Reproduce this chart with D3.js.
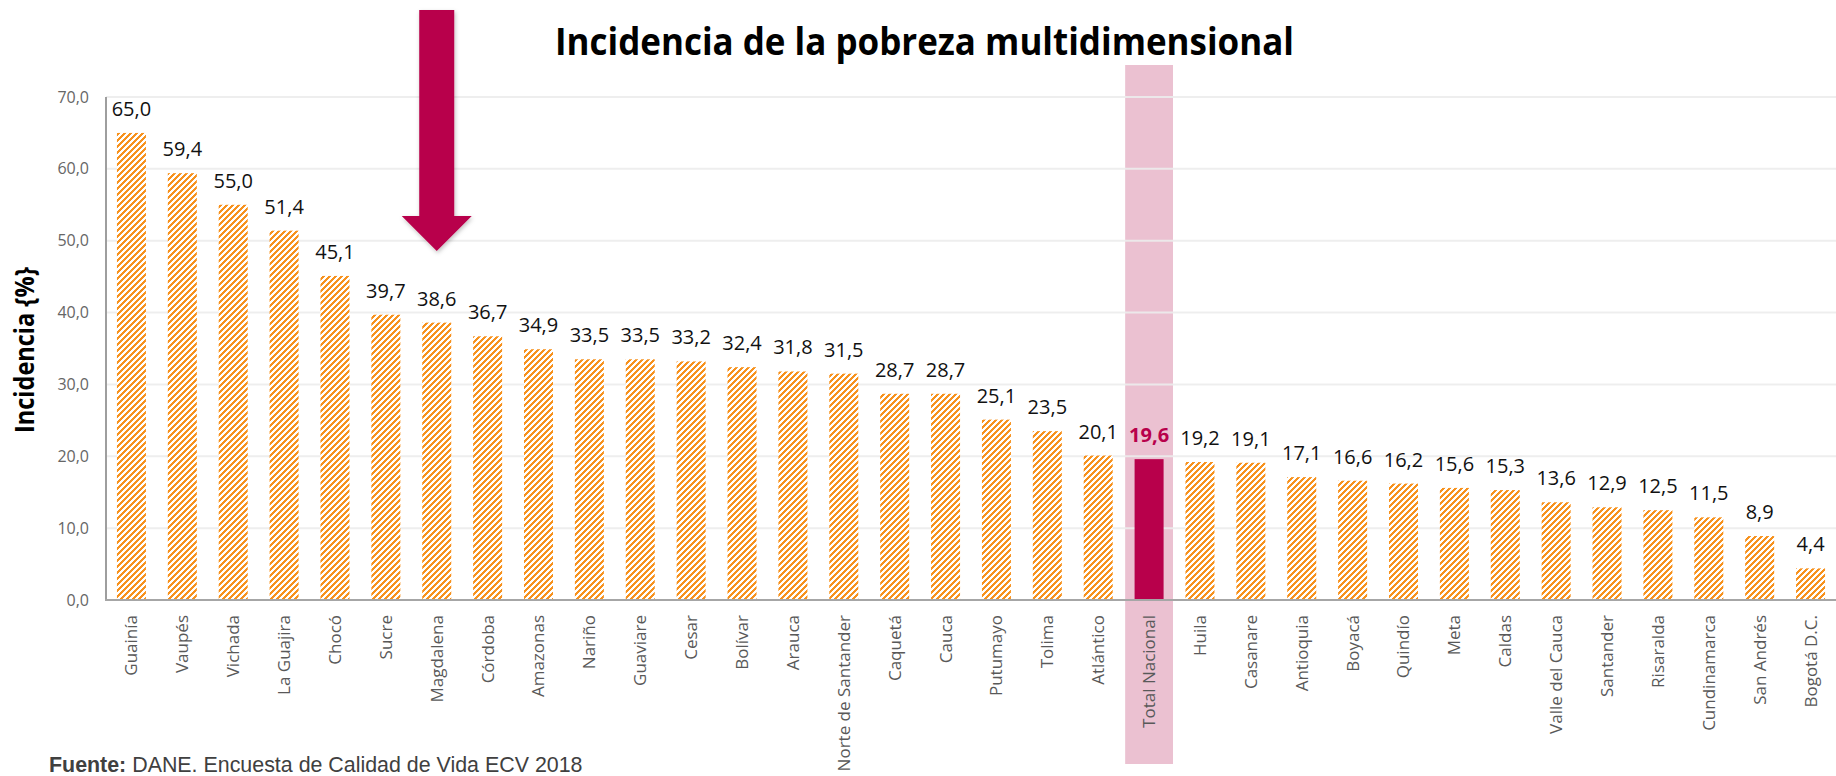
<!DOCTYPE html>
<html lang="es">
<head>
<meta charset="utf-8">
<title>Incidencia de la pobreza multidimensional</title>
<script src="https://cdn.jsdelivr.net/npm/d3@7"></script>
<style>
  html, body { margin: 0; padding: 0; background: #fff; }
  svg { display: block; }
</style>
</head>
<body>
<svg id="chart" width="1836" height="776"></svg>
<script>
// Departamentos ordenados por incidencia (IPM 2018)
const departamentos = [
  "Guainía", "Vaupés", "Vichada", "La Guajira", "Chocó", "Sucre", "Magdalena",
  "Córdoba", "Amazonas", "Nariño", "Guaviare", "Cesar", "Bolívar", "Arauca",
  "Norte de Santander", "Caquetá", "Cauca", "Putumayo", "Tolima", "Atlántico",
  "Total Nacional", "Huila", "Casanare", "Antioquia", "Boyacá", "Quindío",
  "Meta", "Caldas", "Valle del Cauca", "Santander", "Risaralda",
  "Cundinamarca", "San Andrés", "Bogotá D.C."
];
const incidencia = [
  65.0, 59.4, 55.0, 51.4, 45.1, 39.7, 38.6,
  36.7, 34.9, 33.5, 33.5, 33.2, 32.4, 31.8,
  31.5, 28.7, 28.7, 25.1, 23.5, 20.1,
  19.6, 19.2, 19.1, 17.1, 16.6, 16.2,
  15.6, 15.3, 13.6, 12.9, 12.5,
  11.5, 8.9, 4.4
];
const yTicks = [0, 10, 20, 30, 40, 50, 60, 70];
const nacional = "Total Nacional";
const destacado = "Magdalena";

const titulo = "Incidencia de la pobreza multidimensional";
const tituloEje = "Incidencia {%}";
const fuenteEtiqueta = "Fuente:";
const fuenteTexto = " DANE. Encuesta de Calidad de Vida ECV 2018";

const naranja = "#F7921E";
const carmesi = "#B8004B";
const rosa = "#EBC1D1";

const data = departamentos.map((d, i) => ({ name: d, value: incidencia[i] }));
const fmt = v => d3.format(".1f")(v).replace(".", ",");

const svg = d3.select("#chart");
const W = 1836;
const margin = { left: 106, right: 0 };

const x = d3.scaleBand()
  .domain(departamentos)
  .range([margin.left, W - margin.right])
  .paddingInner(0.43)
  .paddingOuter(0.215);

const y = d3.scaleLinear()
  .domain([0, 70])
  .range([600, 97]);

const defs = svg.append("defs");

// Trama diagonal de las barras departamentales
const pat = defs.append("pattern")
  .attr("id", "rayado")
  .attr("patternUnits", "userSpaceOnUse")
  .attr("width", 6).attr("height", 6);
pat.append("rect").attr("width", 6).attr("height", 6).attr("fill", "#fff");
pat.append("path")
  .attr("d", "M-1,7 L7,-1 M-4,4 L4,-4 M2,10 L10,2")
  .attr("stroke", naranja)
  .attr("stroke-width", 2.1)
  .attr("shape-rendering", "crispEdges");

const sombra = defs.append("filter").attr("id", "sombra")
  .attr("x", "-30%").attr("y", "-10%").attr("width", "160%").attr("height", "130%");
sombra.append("feDropShadow")
  .attr("dx", 1).attr("dy", 2).attr("stdDeviation", 2)
  .attr("flood-color", "#000").attr("flood-opacity", 0.25);

// Franja rosada detrás del total nacional
const bw = x.step() * 0.94;
svg.append("rect")
  .attr("x", x(nacional) + x.bandwidth() / 2 - bw / 2)
  .attr("y", 65)
  .attr("width", bw)
  .attr("height", 764 - 65)
  .attr("fill", rosa);

// Líneas de cuadrícula
svg.append("g")
  .selectAll("line")
  .data(yTicks.filter(t => t > 0))
  .join("line")
  .attr("x1", margin.left).attr("x2", W)
  .attr("y1", d => y(d)).attr("y2", d => y(d))
  .attr("stroke", "#ECECEC")
  .attr("stroke-width", 2)
  .attr("stroke-opacity", 0.9);

// Eje Y
const yAxis = d3.axisLeft(y).tickValues(yTicks).tickFormat(fmt).tickSize(0).tickPadding(17);
const gy = svg.append("g").attr("transform", `translate(${margin.left},0)`).call(yAxis);
gy.select(".domain").remove();
gy.selectAll("text")
  .attr("font-family", "'Open Sans', sans-serif")
  .attr("font-size", 16)
  .attr("fill", "#666666");

svg.append("line")
  .attr("x1", margin.left).attr("x2", margin.left)
  .attr("y1", 97).attr("y2", 601)
  .attr("stroke", "#9E9E9E").attr("stroke-width", 2);

// Barras
svg.append("g")
  .selectAll("rect")
  .data(data)
  .join("rect")
  .attr("x", d => x(d.name))
  .attr("y", d => y(d.value))
  .attr("width", x.bandwidth())
  .attr("height", d => y(0) - y(d.value))
  .attr("fill", d => d.name === nacional ? carmesi : "url(#rayado)");

// Etiquetas de valor
svg.append("g")
  .selectAll("text")
  .data(data)
  .join("text")
  .attr("x", d => x(d.name) + x.bandwidth() / 2)
  .attr("y", d => y(d.value) - 17)
  .attr("text-anchor", "middle")
  .attr("font-family", "'Open Sans', sans-serif")
  .attr("font-size", 20)
  .attr("font-weight", d => d.name === nacional ? 700 : 400)
  .attr("fill", d => d.name === nacional ? carmesi : "#111")
  .text(d => fmt(d.value));

// Eje X
const xAxis = d3.axisBottom(x).tickSize(0).tickPadding(0);
const gx = svg.append("g").attr("transform", `translate(0,${y(0)})`).call(xAxis);
gx.select(".domain").remove();
gx.selectAll("text")
  .attr("font-family", "'Open Sans', sans-serif")
  .attr("font-size", 17)
  .attr("fill", "#595959")
  .attr("text-anchor", "end")
  .attr("transform", "rotate(-90)")
  .attr("x", -15)
  .attr("y", 0)
  .attr("dy", "0.35em");

svg.append("line")
  .attr("x1", margin.left - 1).attr("x2", W)
  .attr("y1", y(0)).attr("y2", y(0))
  .attr("stroke", "#A6A6A6").attr("stroke-width", 2);

// Título
svg.append("text")
  .attr("x", 555)
  .attr("y", 55)
  .attr("font-family", "'Open Sans', sans-serif")
  .attr("font-weight", 700)
  .attr("font-size", 38)
  .attr("textLength", 739)
  .attr("lengthAdjust", "spacingAndGlyphs")
  .attr("fill", "#000")
  .text(titulo);

// Título del eje Y
svg.append("text")
  .attr("transform", "translate(34,350) rotate(-90)")
  .attr("text-anchor", "middle")
  .attr("font-family", "'Open Sans', sans-serif")
  .attr("font-weight", 700)
  .attr("font-size", 26)
  .attr("textLength", 166)
  .attr("lengthAdjust", "spacingAndGlyphs")
  .attr("fill", "#000")
  .text(tituloEje);

// Flecha sobre Magdalena
const ax = x(destacado) + x.bandwidth() / 2;
const flecha = d3.path();
flecha.moveTo(ax - 17.5, 10);
flecha.lineTo(ax + 17.5, 10);
flecha.lineTo(ax + 17.5, 216);
flecha.lineTo(ax + 35, 216);
flecha.lineTo(ax, 251);
flecha.lineTo(ax - 35, 216);
flecha.lineTo(ax - 17.5, 216);
flecha.closePath();
svg.append("path")
  .attr("d", flecha.toString())
  .attr("fill", carmesi)
  .attr("filter", "url(#sombra)");

// Fuente
const fuente = svg.append("text")
  .attr("x", 49)
  .attr("y", 772)
  .attr("font-family", "'Liberation Sans', Arial, sans-serif")
  .attr("font-size", 21.4)
  .attr("fill", "#404040");
fuente.append("tspan").attr("font-weight", 700).text(fuenteEtiqueta);
fuente.append("tspan").text(fuenteTexto);
</script>
</body>
</html>
